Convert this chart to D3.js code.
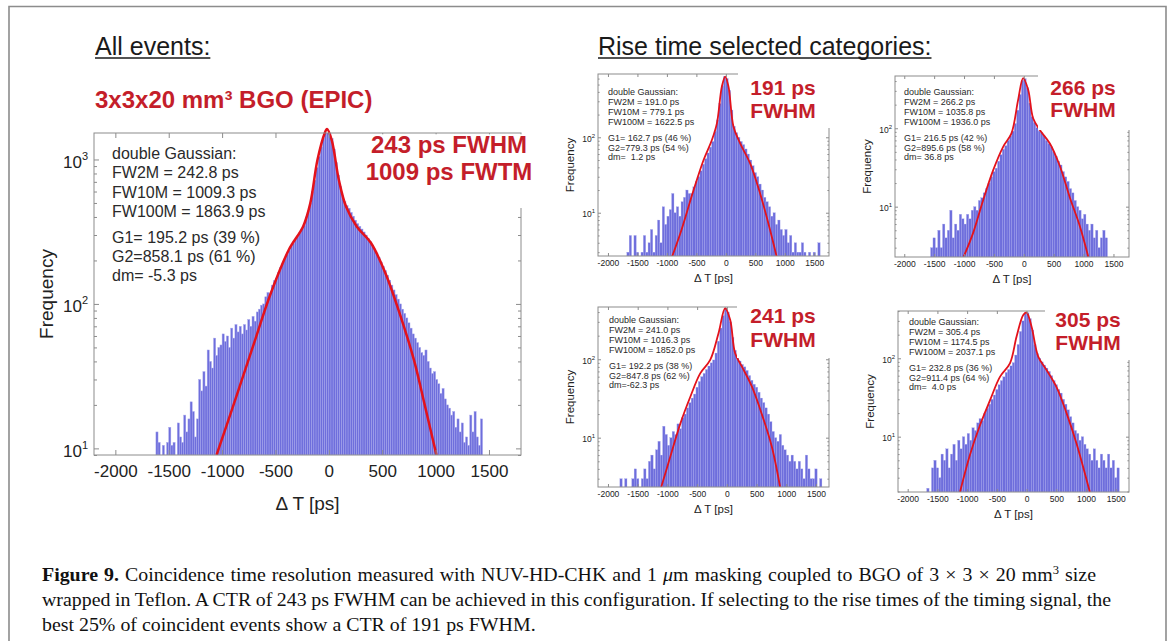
<!DOCTYPE html>
<html>
<head>
<meta charset="utf-8">
<script src="https://cdn.jsdelivr.net/npm/d3@7"></script>
<style>body{margin:0;background:#fff}</style>
</head>
<body>
<script>
// ---- data ----
const xTickVals = [-2000, -1500, -1000, -500, 0, 500, 1000, 1500];

// all events, 20 ps bins starting at -1620 ps
const mainStart = -1620, mainBin = 20;
const mainCounts = [
  13, 11, 8, 10.5, 8, 11, 14, 10.5, 11, 9,
  15, 12, 11, 17, 13, 16, 21, 18, 12, 16,
  30, 25, 34, 27, 48, 40, 36, 58, 44, 50,
  52, 62, 55, 60, 50, 68, 58, 72, 64, 70,
  62, 72, 66, 78, 70, 82, 76, 88, 92, 98,
  100, 112, 120, 118, 135, 145, 150, 165, 178, 190,
  205, 220, 235, 250, 262, 280, 295, 310, 330, 350,
  400, 440, 500, 600, 720, 880, 1050, 1220, 1400, 1540,
  1610, 1560, 1400, 1180, 950, 780, 650, 560, 510, 480,
  460, 430, 405, 380, 360, 345, 330, 315, 300, 285,
  270, 255, 240, 225, 210, 195, 182, 170, 158, 146,
  135, 125, 116, 108, 100, 92, 86, 80, 74, 68,
  62, 58, 54, 50, 46, 44, 48, 40, 36, 33,
  34, 30, 28, 24, 26, 22, 20, 19, 17, 18,
  14, 16, 13, 15, 11, 12, 10.5, 17, 13, 18,
  12, 10.5, 16
];
const mainFit = [[-1052, 9], [-878, 21.6], [-710, 51], [-543, 119], [-375, 237], [-241, 344], [-174, 497],
  [-107, 990], [-40, 1515], [-17, 1625], [27, 1360], [94, 720], [161, 472], [261, 344], [395, 264],
  [529, 164], [663, 86], [797, 41], [898, 20], [1008, 9]];
const mainInfo = ["double Gaussian:", "FW2M = 242.8 ps", "FW10M = 1009.3 ps", "FW100M = 1863.9 ps",
  "G1= 195.2 ps (39 %)", "G2=858.1 ps (61 %)", "dm= -5.3 ps"];
const mainLabel = ["243 ps FWHM", "1009 ps FWTM"];

// rise time categories, 40 ps bins starting at -1800 ps
const smallStart = -1800, smallBin = 40;
const counts191 = [
  0, 0, 0, 3, 5, 0, 5, 3, 0, 3,
  5, 3, 4, 6, 3, 5, 8, 4, 12, 7,
  9, 11, 18, 10, 12, 9, 14, 16, 20, 18,
  18, 22, 26, 30, 36, 44, 52, 62, 74, 88,
  120, 170, 280, 480, 640, 600, 420, 230, 140, 115,
  100, 88, 80, 70, 60, 50, 42, 34, 30, 24,
  20, 16, 14, 12, 9, 10, 7, 8, 6, 5,
  6, 4, 5, 3, 4, 3, 3, 4, 3, 0,
  3, 0, 3, 0, 4, 0];
const counts266 = [
  0, 0, 0, 0, 0, 0, 3, 4, 3, 5,
  3, 6, 4, 5, 9, 4, 6, 5, 8, 7,
  6, 8, 7, 9, 10, 9, 12, 13, 15, 17,
  20, 24, 28, 31, 38, 46, 54, 60, 70, 80,
  92, 115, 170, 270, 410, 430, 330, 210, 140, 118,
  102, 92, 88, 80, 70, 64, 58, 50, 44, 38,
  34, 28, 24, 21, 17, 15, 12, 10, 9, 7,
  8, 6, 5, 6, 4, 5, 3, 4, 5, 4,
  0, 0, 0, 0, 0, 0];
const counts241 = [
  3, 0, 3, 0, 0, 3, 4, 3, 0, 3,
  4, 3, 5, 6, 4, 7, 9, 6, 14, 11,
  8, 10, 12, 11, 15, 13, 18, 20, 24, 28,
  32, 36, 44, 52, 60, 66, 74, 82, 90, 98,
  120, 170, 250, 360, 450, 400, 300, 190, 130, 108,
  95, 86, 80, 72, 62, 54, 48, 44, 38, 32,
  28, 24, 20, 16, 12, 10, 9, 11, 8, 7,
  6, 5, 6, 5, 4, 5, 4, 3, 6, 4,
  3, 3, 4, 0, 3, 0];
const counts305 = [
  0, 0, 0, 2.2, 0, 4, 5, 4, 3, 6,
  5, 7, 4, 6, 8, 5, 9, 7, 10, 8,
  11, 9, 13, 12, 15, 17, 16, 20, 23, 26,
  30, 34, 40, 46, 52, 58, 66, 72, 80, 88,
  110, 150, 220, 300, 370, 380, 320, 230, 150, 115,
  100, 90, 82, 75, 68, 60, 52, 46, 40, 36,
  30, 26, 22, 18, 15, 12, 11, 9, 10, 8,
  7, 6, 5, 7, 5, 4, 6, 5, 4, 6,
  4, 5, 3, 4, 0, 0];

const fit191 = [[-914, 2.6], [-773, 5.3], [-547, 20], [-378, 50], [-237, 92], [-152, 153], [-68, 470],
  [-11, 638], [45, 470], [130, 138], [243, 83], [412, 45], [581, 18], [722, 7.2], [863, 2.6]];
const fit266 = [[-1006, 2.3], [-849, 4.6], [-682, 12], [-514, 29], [-346, 58], [-207, 86], [-95, 230],
  [-11, 436], [73, 310], [156, 134], [268, 95], [436, 64], [603, 33], [771, 13], [939, 5.6], [1078, 2.3]];
const fit241 = [[-1104, 2.35], [-952, 5.7], [-784, 15], [-616, 33], [-448, 66], [-280, 98], [-140, 215],
  [-28, 447], [56, 318], [140, 119], [252, 81], [420, 45], [588, 20], [756, 7.7], [896, 2.35]];
const fit305 = [[-1120, 1.97], [-952, 5.9], [-784, 14], [-616, 29], [-448, 58], [-280, 86], [-168, 189],
  [-56, 357], [0, 383], [84, 253], [196, 105], [336, 71], [504, 43], [672, 20], [840, 8.2], [1064, 1.97]];

const info191 = ["double Gaussian:", "FW2M = 191.0 ps", "FW10M = 779.1 ps", "FW100M = 1622.5 ps",
  "G1= 162.7 ps (46 %)", "G2=779.3 ps (54 %)", "dm=  1.2 ps"];
const info266 = ["double Gaussian:", "FW2M = 266.2 ps", "FW10M = 1035.8 ps", "FW100M = 1936.0 ps",
  "G1= 216.5 ps (42 %)", "G2=895.6 ps (58 %)", "dm= 36.8 ps"];
const info241 = ["double Gaussian:", "FW2M = 241.0 ps", "FW10M = 1016.3 ps", "FW100M = 1852.0 ps",
  "G1= 192.2 ps (38 %)", "G2=847.8 ps (62 %)", "dm=-62.3 ps"];
const info305 = ["double Gaussian:", "FW2M = 305.4 ps", "FW10M = 1174.5 ps", "FW100M = 2037.1 ps",
  "G1= 232.8 ps (36 %)", "G2=911.4 ps (64 %)", "dm=  4.0 ps"];

// ---- layout ----
const W = 1171, H = 641;
const sans = '"Liberation Sans", Arial, Helvetica, sans-serif';
const barFill = "#6e6edc", barEdge = "#a8a8ee", fitColor = "#e3121b", redText = "#c41e2a", axisColor = "#8c8c8c";

const svg = d3.select("body").append("svg")
  .attr("width", W).attr("height", H)
  .attr("font-family", sans);
svg.append("rect").attr("width", W).attr("height", H).attr("fill", "#fff");
svg.append("path").attr("d", `M9,${H + 2}V6.5H1166V${H + 2}`)
  .attr("fill", "none").attr("stroke", axisColor).attr("stroke-width", 1.6);

const big = {tick: 5, minor: 3, tickFont: 17, supFont: 11, supDy: 8, lblFont: 19, infoFont: 16,
  redFont: 24, fitW: 2.5, edge: 0.45, tickPad: 10, yPad: 6, infoStep: 19.1, infoGap: 7.5,
  freqOff: 41.5, dtOff: 55};
const small = {tick: 3, minor: 1.6, tickFont: 8.5, supFont: 6, supDy: 4, lblFont: 11.5, infoFont: 9,
  redFont: 21, fitW: 1.8, edge: 0.3, tickPad: 4, yPad: 3, infoStep: 9.9, infoGap: 6,
  freqOff: 24, dtOff: 26};

const panels = [
  {counts: mainCounts, start: mainStart, bw: mainBin, fit: mainFit, info: mainInfo, label: mainLabel, st: big,
   box: [94, 133, 427, 322], xDom: [-2200, 1800], yDom: [9.0, 1525],
   infoAt: [112, 159.3], labelAt: [449, 153, 180], mask: [360, 134.3, 175, 73.7]},
  {counts: counts191, start: smallStart, bw: smallBin, fit: fit191, info: info191, label: ["191 ps", "FWHM"], st: small,
   box: [598, 74, 231, 182], xDom: [-2169, 1750], yDom: [2.67, 690],
   infoAt: [608, 95], labelAt: [783, 95, 118], mask: [738, 70, 98, 58]},
  {counts: counts266, start: smallStart, bw: smallBin, fit: fit266, info: info266, label: ["266 ps", "FWHM"], st: small,
   box: [895, 76, 234, 181], xDom: [-2155, 1760], yDom: [2.28, 464],
   infoAt: [904, 95], labelAt: [1083, 95, 117], mask: [1038, 72, 98, 58]},
  {counts: counts241, start: smallStart, bw: smallBin, fit: fit241, info: info241, label: ["241 ps", "FWHM"], st: small,
   box: [598, 307, 231, 180], xDom: [-2168, 1719], yDom: [2.35, 464],
   infoAt: [609, 323], labelAt: [783, 323, 347], mask: [737, 303, 99, 55]},
  {counts: counts305, start: smallStart, bw: smallBin, fit: fit305, info: info305, label: ["305 ps", "FWHM"], st: small,
   box: [898, 311, 231, 181], xDom: [-2163, 1723], yDom: [1.97, 401],
   infoAt: [909, 325], labelAt: [1088, 327, 350], mask: [1045, 307, 91, 53]}
];

function styleAxis(a) {
  a.attr("font-size", null).attr("font-family", null).attr("fill", null);
  a.select(".domain").remove();
  a.selectAll(".tick line").attr("stroke", axisColor);
}

panels.forEach((p, k) => {
  const st = p.st;
  const [bx, by, bw, bh] = p.box;
  const x = d3.scaleLinear().domain(p.xDom).range([bx, bx + bw]);
  const y = d3.scaleLog().domain(p.yDom).range([by + bh, by]);
  const g = svg.append("g");

  const defs = g.append("defs");
  defs.append("clipPath").attr("id", "bars" + k).append("rect")
    .attr("x", bx).attr("y", by).attr("width", bw).attr("height", bh);
  defs.append("clipPath").attr("id", "fit" + k).append("rect")
    .attr("x", bx).attr("y", by - 15).attr("width", bw).attr("height", bh + 15);

  // histogram bars
  const bins = p.counts.map((c, i) => ({x0: p.start + i * p.bw, c}))
    .filter(d => d.c > p.yDom[0]);
  g.append("g").attr("clip-path", `url(#bars${k})`)
    .selectAll("rect").data(bins).join("rect")
    .attr("x", d => x(d.x0))
    .attr("width", d => x(d.x0 + p.bw) - x(d.x0))
    .attr("y", d => y(d.c))
    .attr("height", d => by + bh - y(d.c))
    .attr("fill", barFill).attr("stroke", barEdge).attr("stroke-width", st.edge);

  // double gaussian fit
  const line = d3.line().curve(d3.curveCatmullRom.alpha(0.5))
    .x(d => x(d[0])).y(d => y(d[1]));
  g.append("path").attr("clip-path", `url(#fit${k})`)
    .attr("d", line(p.fit)).attr("fill", "none")
    .attr("stroke", fitColor).attr("stroke-width", st.fitW).attr("stroke-linejoin", "round");

  // box
  g.append("rect").attr("x", bx).attr("y", by).attr("width", bw).attr("height", bh)
    .attr("fill", "none").attr("stroke", axisColor).attr("stroke-width", 1);

  // x axes
  g.append("g").attr("transform", `translate(0,${by + bh})`)
    .call(d3.axisBottom(x).tickValues(xTickVals).tickSize(-st.tick).tickPadding(st.tickPad).tickFormat(d3.format("d")))
    .call(styleAxis)
    .call(a => a.selectAll(".tick text").attr("font-size", st.tickFont).attr("fill", "#222")
      .text(d => d < 0 ? "-" + Math.abs(d) : d));
  g.append("g").attr("transform", `translate(0,${by})`)
    .call(d3.axisTop(x).tickValues(xTickVals).tickSize(-st.tick).tickFormat(""))
    .call(styleAxis);

  // y axes (log)
  const all = y.ticks();
  const major = all.filter(v => Math.abs(Math.log10(v) - Math.round(Math.log10(v))) < 1e-9);
  const minor = all.filter(v => !major.includes(v));
  g.append("g").attr("transform", `translate(${bx},0)`)
    .call(d3.axisLeft(y).tickValues(major).tickSize(-st.tick).tickPadding(st.yPad).tickFormat(""))
    .call(styleAxis)
    .call(a => a.selectAll(".tick text").attr("dy", "0.45em").attr("font-size", st.tickFont).attr("fill", "#222")
      .each(function(d) {
        const t = d3.select(this);
        t.append("tspan").text("10");
        t.append("tspan").attr("font-size", st.supFont).attr("dy", -st.supDy).text(Math.round(Math.log10(d)));
      }));
  g.append("g").attr("transform", `translate(${bx},0)`)
    .call(d3.axisLeft(y).tickValues(minor).tickSize(-st.minor).tickFormat(""))
    .call(styleAxis);
  g.append("g").attr("transform", `translate(${bx + bw},0)`)
    .call(d3.axisRight(y).tickValues(major).tickSize(-st.tick).tickFormat(""))
    .call(styleAxis);
  g.append("g").attr("transform", `translate(${bx + bw},0)`)
    .call(d3.axisRight(y).tickValues(minor).tickSize(-st.minor).tickFormat(""))
    .call(styleAxis);

  // axis labels
  g.append("text").attr("transform", `translate(${bx - st.freqOff},${by + bh / 2}) rotate(-90)`)
    .attr("text-anchor", "middle").attr("font-size", st.lblFont).attr("fill", "#222").text("Frequency");
  g.append("text").attr("x", bx + bw / 2).attr("y", by + bh + st.dtOff)
    .attr("text-anchor", "middle").attr("font-size", st.lblFont).attr("fill", "#222").text("\u0394 T [ps]");

  // white box behind the red label
  g.append("rect").attr("x", p.mask[0]).attr("y", p.mask[1]).attr("width", p.mask[2]).attr("height", p.mask[3])
    .attr("fill", "#fff");

  // fit summary text
  const info = g.append("text").attr("font-size", st.infoFont).attr("fill", "#2a2a2a");
  p.info.forEach((s, i) => {
    info.append("tspan").attr("x", p.infoAt[0])
      .attr("y", p.infoAt[1] + i * st.infoStep + (i >= 4 ? st.infoGap : 0))
      .attr("xml:space", "preserve").text(s);
  });

  // red label
  p.label.forEach((s, i) => {
    g.append("text").attr("x", p.labelAt[0]).attr("y", p.labelAt[1 + i])
      .attr("text-anchor", "middle").attr("font-size", st.redFont).attr("font-weight", "bold")
      .attr("fill", redText).text(s);
  });
});

// section headings
function heading(txt, x0, y0) {
  const t = svg.append("text").attr("x", x0).attr("y", y0).attr("font-size", 25).attr("fill", "#1a1a1a").text(txt);
  const w = t.node().getComputedTextLength();
  svg.append("line").attr("x1", x0).attr("x2", x0 + w).attr("y1", y0 + 3).attr("y2", y0 + 3)
    .attr("stroke", "#1a1a1a").attr("stroke-width", 1.4);
}
heading("All events:", 95, 55);
heading("Rise time selected categories:", 598, 55);
svg.append("text").attr("x", 95).attr("y", 108).attr("font-size", 24).attr("font-weight", "bold")
  .attr("fill", redText).text("3x3x20 mm\u00b3 BGO (EPIC)");

// caption
const capLeft = 42, capEnds = [1096, 1111], capLine3End = 536;
const cap = svg.append("g").attr("font-family", '"Liberation Serif", "Times New Roman", serif')
  .attr("font-size", 19).attr("fill", "#111");
const l1 = cap.append("text").attr("x", 0).attr("y", 581).attr("xml:space", "preserve");
l1.append("tspan").attr("font-weight", "bold").text("Figure 9.");
l1.append("tspan").text(" Coincidence time resolution measured with NUV-HD-CHK and 1 ");
l1.append("tspan").attr("font-style", "italic").text("\u03bc");
l1.append("tspan").text("m masking coupled to BGO of 3 \u00d7 3 \u00d7 20 mm");
l1.append("tspan").attr("font-size", 12).attr("dy", -7).text("3");
l1.append("tspan").attr("dy", 7).text(" size");
const l2 = cap.append("text").attr("x", 0).attr("y", 606)
  .text("wrapped in Teflon. A CTR of 243 ps FWHM can be achieved in this configuration. If selecting to the rise times of the timing signal, the");
const l3 = cap.append("text").attr("x", 0).attr("y", 631)
  .text("best 25% of coincident events show a CTR of 191 ps FWHM.");

// the caption face is narrower than Times: squeeze horizontally, then set line 1/2 widths
const sx = (capLine3End - capLeft) / l3.node().getComputedTextLength();
cap.attr("transform", `translate(${capLeft},0) scale(${sx},1)`);
[l1, l2].forEach((t, i) => {
  const w = t.node().getComputedTextLength();
  const spaces = (t.text().match(/ /g) || []).length;
  t.attr("word-spacing", ((capEnds[i] - capLeft) / sx - w) / spaces);
});
</script>
</body>
</html>
